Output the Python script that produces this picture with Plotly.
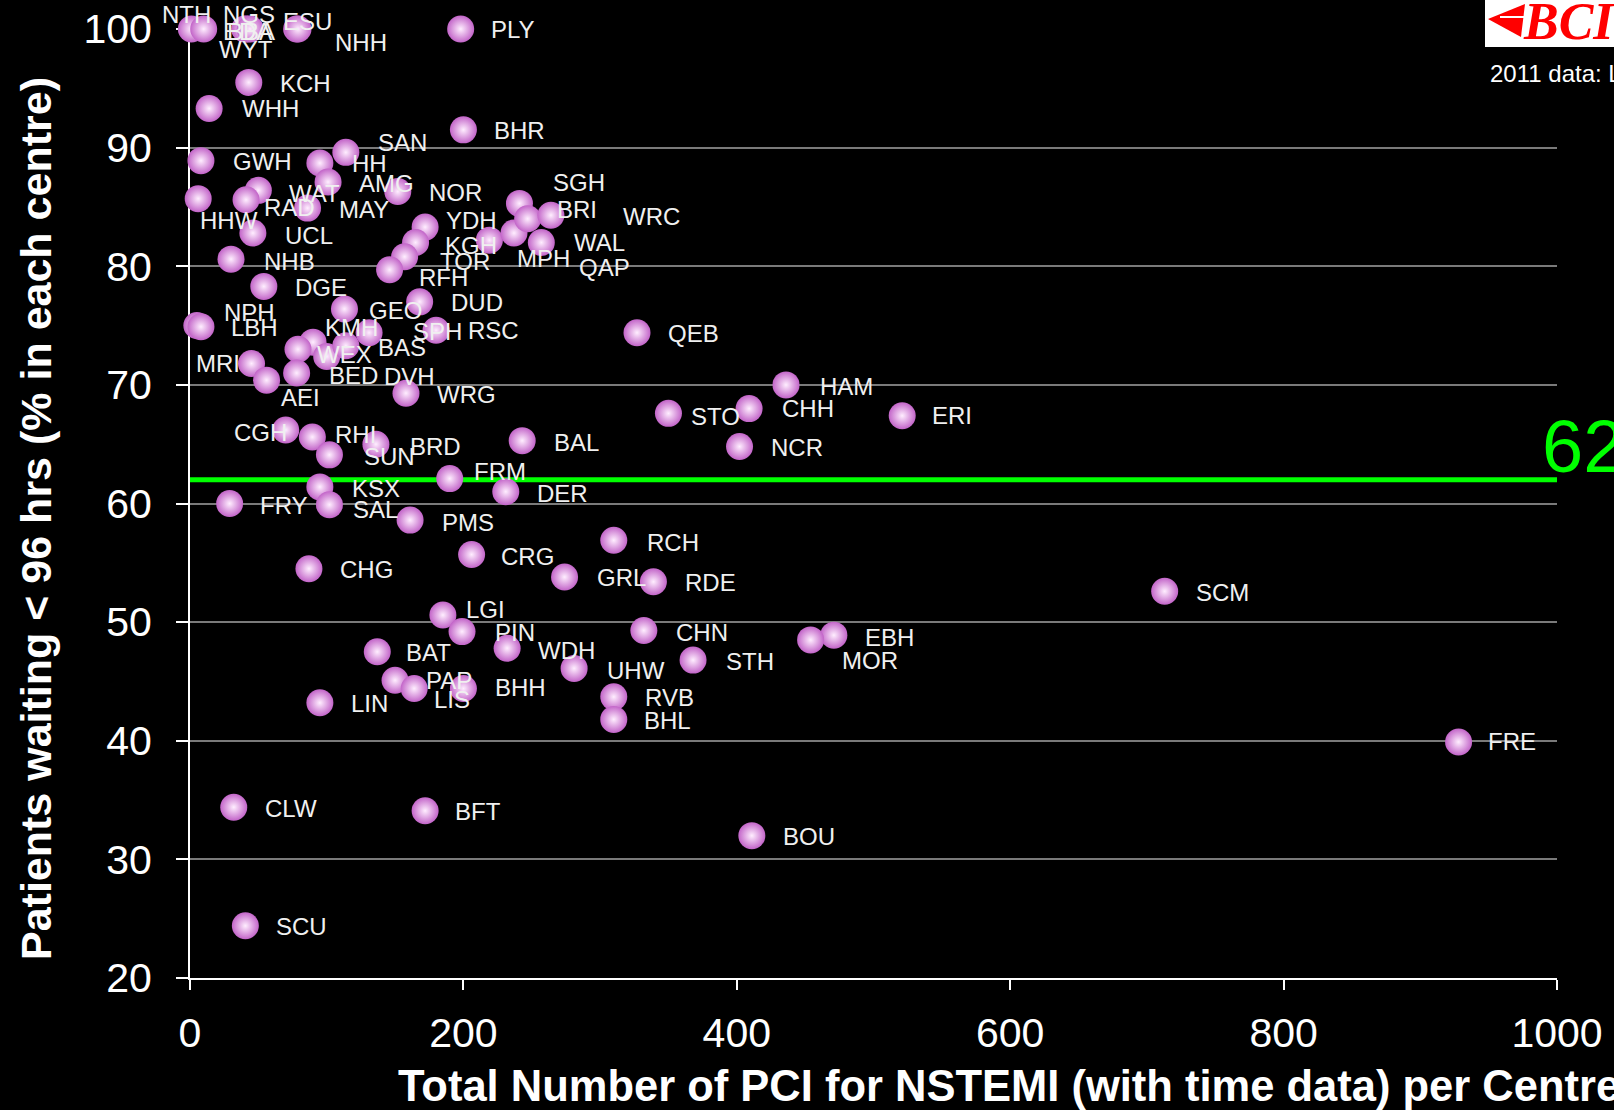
import plotly.graph_objects as go

# ---------------- data ----------------
centres = [
    "NTH", "NGS", "EDA", "BBA", "WYT", "ESU", "NHH", "PLY", "KCH", "WHH",
    "BHR", "SAN", "GWH", "HH", "AMG", "NOR", "WAT", "RAD", "HHW", "MAY",
    "UCL", "YDH", "KGH", "TOR", "RFH", "NHB", "DGE", "DUD", "GEO", "NPH",
    "LBH", "MPH", "QAP", "SGH", "BRI", "WRC", "WAL", "KMH", "WEX", "DVH",
    "BAS", "SPH", "RSC", "BED", "MRI", "AEI", "WRG", "QEB", "HAM", "STO",
    "CHH", "ERI", "NCR", "CGH", "RHI", "SUN", "BRD", "BAL", "FRM", "KSX",
    "SAL", "FRY", "PMS", "DER", "RCH", "CRG", "CHG", "GRL", "RDE", "SCM",
    "LGI", "CHN", "PIN", "EBH", "MOR", "BAT", "WDH", "STH", "UHW", "PAP",
    "LIS", "BHH", "RVB", "LIN", "BHL", "FRE", "CLW", "BFT", "BOU", "SCU",
]
pci_counts = [
    1, 10, 42, 40, 44, 78, 79, 198, 43, 14,
    200, 114, 8, 95, 101, 152, 50, 41, 6, 86,
    46, 172, 165, 157, 146, 30, 54, 168, 113, 5,
    8, 219, 237, 241, 247, 264, 257, 90, 79, 100,
    114, 131, 180, 78, 45, 56, 158, 327, 436, 350,
    409, 521, 402, 70, 89.5, 102, 136, 243, 190, 95,
    102, 29, 161, 231, 310, 206, 87, 274, 339, 713,
    185, 332, 199, 471, 454, 137, 232, 368, 281, 150,
    164, 200, 310, 95, 310, 928, 32, 172, 411, 40.5,
]
pct_waiting = [
    100, 100, 100, 100, 100, 100, 100, 100, 95.5, 93.3,
    91.5, 89.6, 88.9, 88.7, 87.1, 86.3, 86.4, 85.6, 85.7, 84.9,
    82.8, 83.3, 82.0, 80.8, 79.7, 80.6, 78.3, 77.0, 76.4, 75.0,
    74.9, 82.2, 82.8, 85.3, 84.0, 84.3, 82.0, 73.6, 73.0, 72.4,
    73.3, 74.4, 74.6, 71.0, 71.8, 70.4, 69.3, 74.4, 70.0, 67.6,
    68.0, 67.4, 64.8, 66.2, 65.6, 64.1, 65.0, 65.3, 62.1, 61.4,
    59.9, 60.0, 58.6, 61.0, 56.9, 55.7, 54.5, 53.8, 53.4, 52.6,
    50.6, 49.3, 49.2, 48.9, 48.5, 47.5, 47.8, 46.8, 46.1, 45.1,
    44.4, 44.4, 43.7, 43.2, 41.8, 39.9, 34.4, 34.1, 32.0, 24.4,
]
x_tick_vals = [0, 200, 400, 600, 800, 1000]
y_tick_vals = [20, 30, 40, 50, 60, 70, 80, 90, 100]
threshold_value = 62
threshold_label = "62"
y_title = "Patients waiting &lt; 96 hrs (% in each centre)"
x_title = "Total Number of PCI for NSTEMI (with time data) per Centre"
source_note = "2011 data: L"
logo_text = "BCIS"

# ---------------- layout geometry (pixels) ----------------
FIG_W, FIG_H = 1614, 1110
M_L, M_R, M_T, M_B = 190, 57, 29, 132
PW = FIG_W - M_L - M_R
PH = FIG_H - M_T - M_B


def px(xp):
    return (xp - M_L) / PW


def py(yp):
    return (M_T + PH - yp) / PH


# label placement (pixel offsets from marker centre: right, down)
DEFAULT_OFFSET = (29, 1)
label_offsets = {
    "NTH": (-31, -15), "NGS": (17, -15), "EDA": (-26, 2), "BBA": (-20, 2),
    "WYT": (-33, 20), "ESU": (-16, -8), "NHH": (35, 13), "PLY": (28, 0),
    "WHH": (31, 0), "SAN": (30, -10), "GWH": (30, 1), "HH": (30, 0),
    "WAT": (29, 3), "RAD": (16, 8), "HHW": (0, 22), "UCL": (30, 2),
    "YDH": (19, -7), "KGH": (27, 3), "TOR": (33, 5), "RFH": (27, 8),
    "NHB": (31, 2), "GEO": (23, 2), "NPH": (25, -13), "LBH": (28, 1),
    "MPH": (26, 18), "QAP": (63, 34), "SGH": (32, -21), "BRI": (27, -9),
    "WRC": (70, 1), "WAL": (31, 0), "KMH": (10, -15), "WEX": (17, 5),
    "DVH": (55, 20), "BAS": (30, 2), "SPH": (42, -1), "RSC": (30, 0),
    "BED": (30, 2), "MRI": (-58, 0), "AEI": (12, 17), "HAM": (32, 2),
    "STO": (21, 3), "CHH": (31, 0), "ERI": (28, 0), "CGH": (-54, 3),
    "RHI": (21, -3), "SUN": (33, 2), "BRD": (32, 2), "BAL": (30, 2),
    "FRM": (22, -7), "KSX": (30, 2), "SAL": (22, 5), "FRY": (28, 2),
    "PMS": (30, 2), "DER": (29, 2), "RCH": (31, 2), "CRG": (27, 2),
    "GRL": (30, 0), "RDE": (30, 1), "LGI": (21, -6), "CHN": (30, 2),
    "PIN": (31, 1), "EBH": (29, 2), "MOR": (29, 21), "BAT": (27, 1),
    "WDH": (29, 2), "STH": (31, 1), "UHW": (31, 2), "PAP": (29, 0),
    "LIS": (18, 11), "BHH": (30, -1), "BHL": (28, 1), "FRE": (27, 0),
    "BFT": (28, 1),
}

LABEL_FONT = dict(family="Liberation Sans, Arial, sans-serif", size=24, color="#f0f0f0")
TICK_FONT = dict(family="Liberation Sans, Arial, sans-serif", size=41, color="white")

fig = go.Figure()

fig.add_trace(go.Scatter(
    x=pci_counts, y=pct_waiting, mode="markers",
    marker=dict(size=27, color="#c264c8",
                gradient=dict(type="radial", color="#ffeeff"),
                line=dict(width=0)),
    cliponaxis=False, hoverinfo="skip", showlegend=False,
))

annotations = []
for name, xv, yv in zip(centres, pci_counts, pct_waiting):
    dx, dy = label_offsets.get(name, DEFAULT_OFFSET)
    annotations.append(dict(
        x=xv, y=yv, xref="x", yref="y", text=name, showarrow=False,
        xanchor="left", yanchor="middle", xshift=dx, yshift=-dy,
        font=LABEL_FONT,
    ))

# threshold label
annotations.append(dict(
    x=px(1540), y=threshold_value, xref="paper", yref="y", text=threshold_label,
    showarrow=False, xanchor="left", yanchor="middle", yshift=33,
    font=dict(family="Liberation Sans, Arial, sans-serif", size=74, color="#00ff00"),
))
# axis titles
annotations.append(dict(
    x=px(36), y=py(519), xref="paper", yref="paper", text="<b>" + y_title + "</b>",
    textangle=-90, showarrow=False, xanchor="center", yanchor="middle",
    font=dict(family="Liberation Sans, Arial, sans-serif", size=43, color="white"),
))
annotations.append(dict(
    x=px(396), y=py(1086), xref="paper", yref="paper", text="<b>" + x_title + "</b>",
    showarrow=False, xanchor="left", yanchor="middle",
    font=dict(family="Liberation Sans, Arial, sans-serif", size=43.5, color="white"),
))
# source note
annotations.append(dict(
    x=px(1488), y=py(73), xref="paper", yref="paper", text=source_note,
    showarrow=False, xanchor="left", yanchor="middle",
    font=dict(family="Liberation Sans, Arial, sans-serif", size=24, color="white"),
))
# logo text
annotations.append(dict(
    x=px(1521), y=py(21), xref="paper", yref="paper", text="<b><i>" + logo_text + "</i></b>",
    showarrow=False, xanchor="left", yanchor="middle",
    font=dict(family="Liberation Serif, Times New Roman, serif", size=52, color="#ff0000"),
))

shapes = [
    dict(type="line", xref="x", yref="y", x0=x_tick_vals[0], x1=x_tick_vals[-1],
         y0=threshold_value, y1=threshold_value,
         line=dict(color="#00ff00", width=5), layer="between"),
    dict(type="rect", xref="paper", yref="paper", x0=px(1485), x1=px(1625),
         y0=py(47), y1=py(-5), fillcolor="white", line=dict(width=0), layer="above"),
    dict(type="path", xref="paper", yref="paper",
         path="M {:.5f},{:.5f} L {:.5f},{:.5f} L {:.5f},{:.5f} Z".format(
             px(1488), py(19), px(1525), py(4), px(1521), py(37)),
         fillcolor="#ff0000", line=dict(width=0), layer="above"),
    dict(type="line", xref="paper", yref="paper", x0=px(1500), x1=px(1526),
         y0=py(17), y1=py(17), line=dict(color="white", width=2), layer="above"),
]

fig.update_layout(
    width=FIG_W, height=FIG_H, autosize=False,
    margin=dict(l=M_L, r=M_R, t=M_T, b=M_B, pad=0, autoexpand=False),
    paper_bgcolor="black", plot_bgcolor="black",
    showlegend=False,
    annotations=annotations, shapes=shapes,
    xaxis=dict(range=[x_tick_vals[0], x_tick_vals[-1]], tickvals=x_tick_vals,
               ticks="outside", ticklen=10, tickwidth=2, tickcolor="white",
               showline=True, linecolor="white", linewidth=2,
               showgrid=False, zeroline=False, tickfont=TICK_FONT,
               ticklabelstandoff=8, layer="below traces", fixedrange=True,
               automargin=False),
    yaxis=dict(range=[y_tick_vals[0], y_tick_vals[-1]], tickvals=y_tick_vals,
               ticks="outside", ticklen=12, tickwidth=2, tickcolor="white",
               showline=True, linecolor="white", linewidth=2,
               showgrid=True, gridcolor="#7a7a7a", gridwidth=2,
               zeroline=False, tickfont=TICK_FONT,
               ticklabelstandoff=16, layer="below traces", fixedrange=True,
               automargin=False),
)

fig.write_html("out.html", config={"displayModeBar": False},
               post_script="document.body.style.margin='0';document.body.style.overflow='hidden';")
